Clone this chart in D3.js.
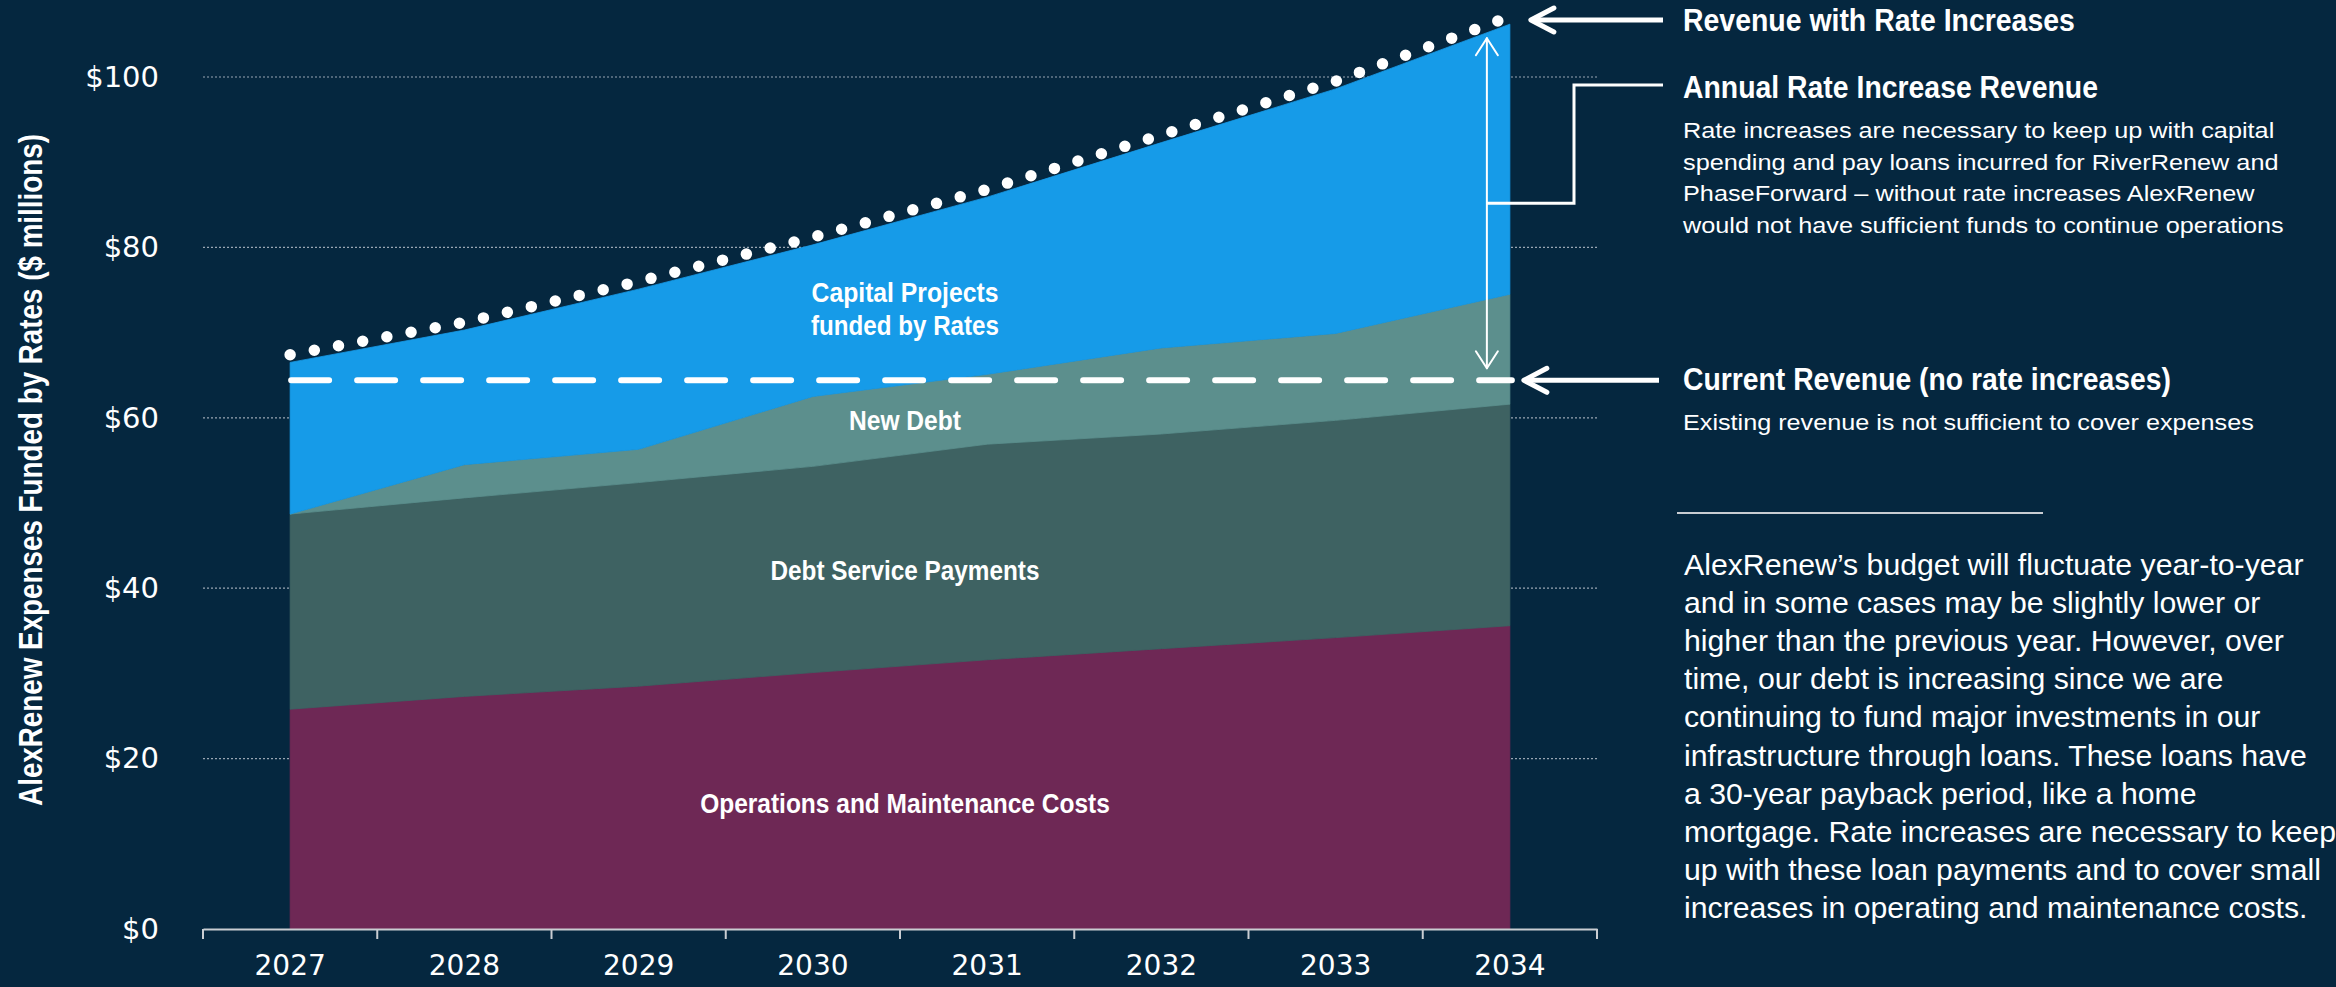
<!DOCTYPE html>
<html>
<head>
<meta charset="utf-8">
<script src="https://cdn.jsdelivr.net/npm/d3@7"></script>
<style>
  html, body { margin: 0; padding: 0; background: #05273f; }
  svg { display: block; }
</style>
</head>
<body>
<svg id="chart" width="2336" height="987"></svg>
<script>
// ---------------- DATA ----------------
const years = ["2027", "2028", "2029", "2030", "2031", "2032", "2033", "2034"];
const omCosts      = [25.8, 27.3, 28.5, 30.1, 31.6, 32.9, 34.2, 35.6];
const debtService  = [22.9, 23.3, 23.9, 24.2, 25.3, 25.2, 25.5, 26.0];
const newDebt      = [0.0, 3.9, 3.9, 8.2, 8.2, 10.1, 10.2, 12.9];
const capitalRates = [17.8, 15.8, 18.8, 17.8, 20.8, 24.1, 28.7, 31.7];
const revenueWithRateIncreases = [67.4, 71.2, 76.0, 81.2, 86.8, 93.2, 99.5, 107.1];
const currentRevenue = 64.4;
const yTicks = [0, 20, 40, 60, 80, 100];

const seriesKeys   = ["om", "debt", "newDebt", "capital"];
const seriesColors = { om: "#6e2855", debt: "#3e6262", newDebt: "#5c8f8d", capital: "#169be8" };
const areaLabels = [
  { lines: ["Capital Projects", "funded by Rates"], widths: [187, 188], baselines: [302, 335] },
  { lines: ["New Debt"], widths: [112], baselines: [430] },
  { lines: ["Debt Service Payments"], widths: [269], baselines: [580] },
  { lines: ["Operations and Maintenance Costs"], widths: [410], baselines: [813] }
];

const yTitle = "AlexRenew Expenses Funded by Rates ($ millions)";
const head1 = "Revenue with Rate Increases";
const head2 = "Annual Rate Increase Revenue";
const body2 = [
  "Rate increases are necessary to keep up with capital",
  "spending and pay loans incurred for RiverRenew and",
  "PhaseForward \u2013 without rate increases AlexRenew",
  "would not have sufficient funds to continue operations"
];
const body2Widths = [592, 590, 567, 610];
const head3 = "Current Revenue (no rate increases)";
const body3 = "Existing revenue is not sufficient to cover expenses";
const para = [
  "AlexRenew\u2019s budget will fluctuate year-to-year",
  "and in some cases may be slightly lower or",
  "higher than the previous year. However, over",
  "time, our debt is increasing since we are",
  "continuing to fund major investments in our",
  "infrastructure through loans. These loans have",
  "a 30-year payback period, like a home",
  "mortgage. Rate increases are necessary to keep",
  "up with these loan payments and to cover small",
  "increases in operating and maintenance costs."
];
const paraWidths = [612, 573, 594, 542, 588, 627, 511, 650, 640, 625];

// ---------------- SETUP ----------------
const W = 2336, H = 987;
const SANS = '"Liberation Sans", Arial, Helvetica, sans-serif';
const WIDE = '"DejaVu Sans", Verdana, sans-serif';
const svg = d3.select("#chart");
svg.append("rect").attr("width", W).attr("height", H).attr("fill", "#05273f");

const xB = d3.scaleBand().domain(years).range([203, 1597]).padding(0);
const cx = yr => xB(yr) + xB.bandwidth() / 2;
const y = d3.scaleLinear().domain([0, 100]).range([929, 77]);

function makeText(parent, str, o) {
  const t = parent.append("text").text(str)
    .attr("font-family", o.family || SANS)
    .attr("font-size", o.size)
    .attr("font-weight", o.weight || 400)
    .attr("fill", o.fill || "#ffffff")
    .attr("text-anchor", o.anchor || "start");
  return { t, w: t.node().getComputedTextLength() };
}
function place(item, x, yy, k, rot) {
  item.t.attr("transform", `translate(${x},${yy})` + (rot ? ` rotate(${rot})` : "") + ` scale(${k},1)`);
}
function fitText(parent, str, x, yy, o) {
  const it = makeText(parent, str, o);
  const k = o.width ? o.width / it.w : 1;
  place(it, x, yy, k, o.rotate);
  return it;
}
function fitGroup(parent, lines, widths, x, baselines, o) {
  const items = lines.map(s => makeText(parent, s, o));
  const k = d3.sum(widths) / d3.sum(items, d => d.w);
  items.forEach((it, i) => place(it, x, baselines[i], k));
}

// ---------------- GRIDLINES ----------------
svg.append("g").selectAll("line")
  .data(yTicks.filter(d => d > 0))
  .join("line")
  .attr("x1", 203).attr("x2", 1597)
  .attr("y1", d => y(d)).attr("y2", d => y(d))
  .attr("stroke", "#9aa6b3").attr("stroke-width", 1.2)
  .attr("stroke-dasharray", "2,2");

// ---------------- STACKED AREAS ----------------
const table = years.map((yr, i) => ({
  year: yr, om: omCosts[i], debt: debtService[i], newDebt: newDebt[i], capital: capitalRates[i]
}));
const stacked = d3.stack().keys(seriesKeys)(table);
const area = d3.area()
  .x(d => cx(d.data.year))
  .y0(d => y(d[0]))
  .y1(d => y(d[1]));
svg.append("g").selectAll("path")
  .data(stacked)
  .join("path")
  .attr("d", area)
  .attr("fill", d => seriesColors[d.key])
  .attr("stroke", d => seriesColors[d.key])
  .attr("stroke-width", 0.8);

// ---------------- AXES ----------------
const xAxis = svg.append("g").attr("transform", `translate(0,${y(0)})`)
  .call(d3.axisBottom(xB).tickSize(0).tickSizeOuter(0).tickPadding(26));
xAxis.select(".domain").attr("stroke", "#c9cdd2").attr("stroke-width", 2);
xAxis.selectAll(".tick text")
  .attr("font-family", WIDE).attr("font-size", 28).attr("fill", "#ffffff");
xAxis.append("g").selectAll("line")
  .data(years.map(yr => xB(yr)).concat([xB.range()[1]]))
  .join("line")
  .attr("x1", d => d).attr("x2", d => d)
  .attr("y1", 0).attr("y2", 10)
  .attr("stroke", "#c9cdd2").attr("stroke-width", 2);

const yAxis = svg.append("g").attr("transform", "translate(203,0)")
  .call(d3.axisLeft(y).tickValues(yTicks).tickFormat(d => "$" + d).tickSize(0).tickPadding(44));
yAxis.select(".domain").remove();
yAxis.selectAll(".tick text")
  .attr("font-family", WIDE).attr("font-size", 29).attr("fill", "#ffffff");

fitText(svg, yTitle, 42, 470, { size: 34, weight: 700, width: 672, anchor: "middle", rotate: -90 });

// ---------------- AREA LABELS ----------------
const labelX = 905;
areaLabels.forEach(L => {
  L.lines.forEach((s, i) => {
    fitText(svg, s, labelX, L.baselines[i], { size: 28, weight: 700, width: L.widths[i], anchor: "middle" });
  });
});

// ---------------- REVENUE LINES ----------------
const revLine = d3.line().x((d, i) => cx(years[i])).y(d => y(d));
svg.append("path")
  .datum(revenueWithRateIncreases)
  .attr("d", revLine)
  .attr("fill", "none")
  .attr("stroke", "#ffffff")
  .attr("stroke-width", 11.5)
  .attr("stroke-linecap", "round")
  .attr("stroke-dasharray", "0 24.6");

const xFirst = cx(years[0]), xLast = cx(years[years.length - 1]);
svg.append("line")
  .attr("x1", xFirst + 1).attr("x2", xLast + 2)
  .attr("y1", y(currentRevenue)).attr("y2", y(currentRevenue))
  .attr("stroke", "#ffffff").attr("stroke-width", 6)
  .attr("stroke-linecap", "round")
  .attr("stroke-dasharray", "38 28");

// ---------------- ANNOTATION ARROWS ----------------
const ann = svg.append("g").attr("fill", "none").attr("stroke", "#ffffff")
  .attr("stroke-linecap", "round").attr("stroke-linejoin", "round");

function leftArrow(xTip, yy, xEnd) {
  ann.append("path").attr("d", `M${xTip + 2},${yy} L${xEnd},${yy}`).attr("stroke-width", 5).attr("stroke-linecap", "butt");
  ann.append("path").attr("d", `M${xTip + 23},${yy - 12} L${xTip},${yy} L${xTip + 23},${yy + 12}`).attr("stroke-width", 5);
}
const revLast = revenueWithRateIncreases[revenueWithRateIncreases.length - 1];
leftArrow(xLast + 21, y(revLast) + 3.5, 1663);
leftArrow(xLast + 14, y(currentRevenue), 1659);

const totalLast = omCosts[7] + debtService[7] + newDebt[7] + capitalRates[7];
const vx = xLast - 23;
const vy1 = y(totalLast) + 14, vy2 = y(currentRevenue) - 12;
ann.append("path").attr("d", `M${vx},${vy1} L${vx},${vy2}`).attr("stroke-width", 2);
ann.append("path").attr("d", `M${vx - 11},${vy1 + 17} L${vx},${vy1} L${vx + 11},${vy1 + 17}`).attr("stroke-width", 2);
ann.append("path").attr("d", `M${vx - 11},${vy2 - 17} L${vx},${vy2} L${vx + 11},${vy2 - 17}`).attr("stroke-width", 2);
const vmid = (vy1 + vy2) / 2;
ann.append("path").attr("d", `M${vx},${vmid} L1574,${vmid} L1574,85 L1663,85`)
  .attr("stroke-width", 3).attr("stroke-linecap", "butt").attr("stroke-linejoin", "miter");

// ---------------- RIGHT PANEL TEXT ----------------
const tx = 1683;
fitText(svg, head1, tx, 31, { size: 31, weight: 700, width: 392 });
fitText(svg, head2, tx, 98, { size: 31, weight: 700, width: 415 });
fitGroup(svg, body2, body2Widths, tx, [138, 169.5, 201, 232.5], { size: 22.3, weight: 400 });
fitText(svg, head3, tx, 390, { size: 31, weight: 700, width: 488 });
fitText(svg, body3, tx, 430, { size: 22.3, weight: 400, width: 571 });

svg.append("line")
  .attr("x1", 1677).attr("x2", 2043).attr("y1", 513).attr("y2", 513)
  .attr("stroke", "#c9cdd2").attr("stroke-width", 2);

fitGroup(svg, para, paraWidths, 1684, para.map((d, i) => 575 + 38.1 * i), { size: 30, weight: 400 });
</script>
</body>
</html>
